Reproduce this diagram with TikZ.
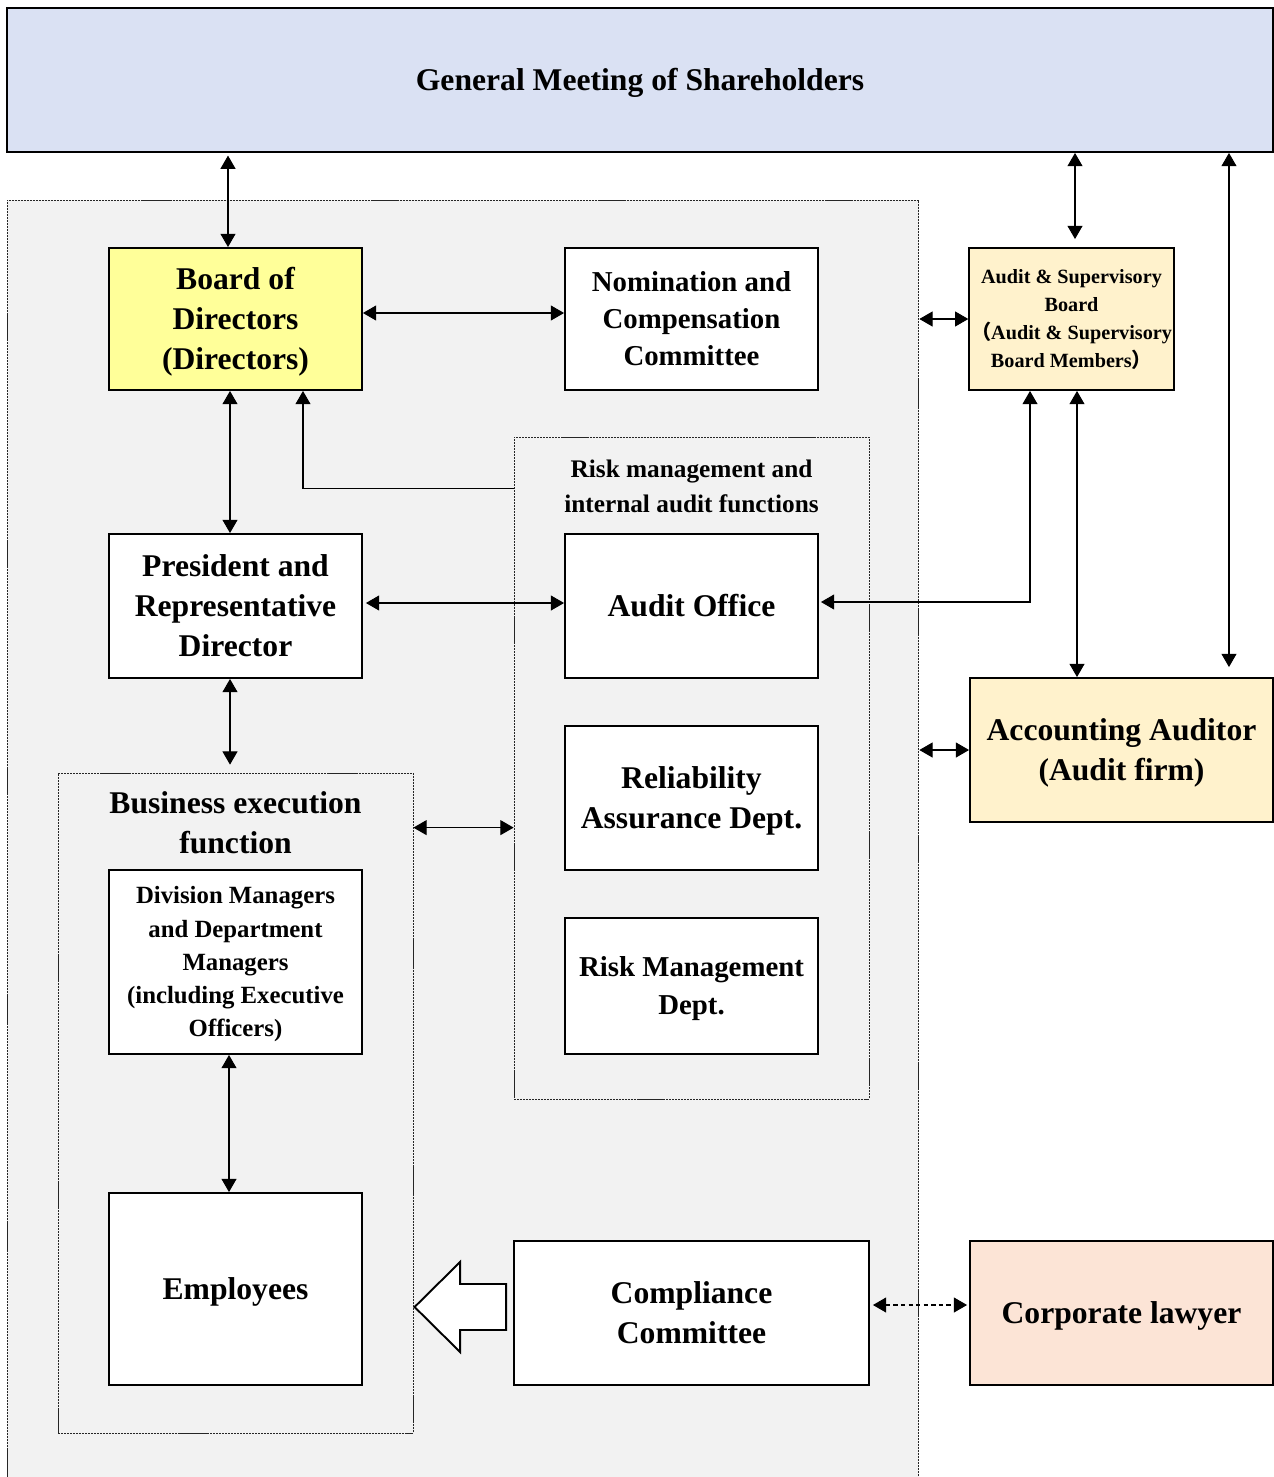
\documentclass[tikz,border=0pt]{standalone}
\usepackage{fontspec}
\setmainfont{Liberation Serif}
\newfontfamily\cjkparen{Noto Sans CJK JP}
\usetikzlibrary{arrows.meta,calc}

\definecolor{gmsblue}{RGB}{218,225,243}
\definecolor{bodyellow}{RGB}{255,255,153}
\definecolor{auditcream}{RGB}{255,242,204}
\definecolor{lawyerpeach}{RGB}{252,228,214}
\definecolor{groupgray}{RGB}{242,242,242}

% line strut, so that the lines sit as in a word processor
\newcommand\ws{\rule[-0.216em]{0pt}{1.107em}}

\begin{document}
\begin{tikzpicture}[x=0.02cm,y=-0.02cm,
        >={Triangle[length=7.5pt,width=8.5pt]},
        box/.style={draw,line width=1.1pt,fill=white,align=center,inner sep=1pt,
            minimum width=5.06cm,minimum height=2.88cm},
        group/.style={draw=black!85,fill=groupgray,line width=0.5pt,
            dash pattern=on 1.2pt off 0.5pt,inner sep=0pt},
        link/.style={<->,line width=0.6pt},
        bigtxt/.style={font=\fontsize{18}{22.7}\selectfont\bfseries},
        midtxt/.style={font=\fontsize{16.4}{21}\selectfont\bfseries},
        smalltxt/.style={font=\fontsize{14.2}{19}\selectfont\bfseries},
        tinytxt/.style={font=\fontsize{11.5}{15.9}\selectfont\bfseries}
    ]
    \useasboundingbox (0,0) rectangle (1274,1477);

    % groups
    \node[group,minimum width=18.24cm,minimum height=25.8cm] (corp) at (463,845) {};
    \node[group,minimum width=7.1cm,minimum height=13.2cm] (biz) at (235.5,1103) {};
    \node[group,minimum width=7.1cm,minimum height=13.24cm] (risk) at (691.5,768) {};
    \node[bigtxt,align=center] (biztitle) at (235.5,823) {Business execution\\function};
    \node[smalltxt,align=center,font=\fontsize{14.4}{19.8}\selectfont\bfseries] (risktitle)
        at (691.5,486.5) {Risk management and\\internal audit functions};

    % boxes
    \node[box,bigtxt,fill=gmsblue,minimum width=25.32cm] (gms) at (640,80)
        {\ws General Meeting of Shareholders\ws};
    \node[box,bigtxt,fill=bodyellow,minimum height=2.84cm] (bod) at (235.5,319)
        {\ws Board of\\Directors\\(Directors)\ws};
    \node[box,midtxt,minimum height=2.84cm] (nom) at (691.5,319)
        {\ws Nomination and\\Compensation\\Committee\ws};
    \node[box,tinytxt,fill=auditcream,minimum width=4.06cm,minimum height=2.84cm] (asb)
        at (1071.5,319)
        {\ws Audit \& Supervisory\\Board\\{\cjkparen （}Audit \& Supervisory\\Board Members{\cjkparen ）}\ws};
    \node[box,bigtxt] (pres) at (235.5,606) {\ws President and\\Representative\\Director\ws};
    \node[box,bigtxt] (aoff) at (691.5,606) {\ws Audit Office\ws};
    \node[box,bigtxt] (rel) at (691.5,798) {\ws Reliability\\Assurance Dept.\ws};
    \node[box,midtxt,font=\fontsize{16.4}{21.8}\selectfont\bfseries,minimum height=2.72cm]
        (rmd) at (691.5,986) {\ws Risk Management\\Dept.\ws};
    \node[box,smalltxt,font=\fontsize{14.1}{18.9}\selectfont\bfseries,minimum height=3.68cm]
        (div) at (235.5,962)
        {\ws Division Managers\\and Department\\Managers\\(including Executive\\Officers)\ws};
    \node[box,bigtxt,minimum height=3.84cm] (emp) at (235.5,1289) {\ws Employees\ws};
    \node[box,bigtxt,minimum width=7.1cm] (comp) at (691.5,1313) {\ws Compliance\\Committee\ws};
    \node[box,bigtxt,fill=auditcream,minimum width=6.06cm] (acc) at (1121.5,750)
        {\ws Accounting Auditor\\(Audit firm)\ws};
    \node[box,bigtxt,fill=lawyerpeach,minimum width=6.06cm] (law) at (1121.5,1313)
        {\ws Corporate lawyer\ws};

    % links to the shareholders
    \coordinate (b1) at ([xshift=-0.15cm]bod.north);
    \coordinate (a1) at ([xshift=0.07cm]asb.north);
    \coordinate (a2) at ([xshift=2.15cm]acc.north);
    \draw[link,shorten <=1.5pt] (b1 |- gms.south) -- (b1);
    \draw[link,shorten >=0.16cm] (a1 |- gms.south) -- (a1);
    \draw[link,shorten >=0.2cm] (a2 |- gms.south) -- (a2);

    % board and management
    \draw[link] ([yshift=0.12cm]bod.east) -- ([yshift=0.12cm]nom.west);
    \draw[link] ([xshift=-0.11cm]bod.south) -- ([xshift=-0.11cm]pres.north);
    \draw[->,line width=0.6pt] ([yshift=-1.04cm]risk.north west) -| ([xshift=1.35cm]bod.south);
    \draw[link,shorten <=0.06cm] ([yshift=0.06cm]pres.east) -- ([yshift=0.06cm]aoff.west);
    \coordinate (p1) at ([xshift=-0.11cm]pres.south);
    \draw[link,shorten >=0.16cm] (p1) -- (p1 |- biz.north);
    \coordinate (r1) at ([yshift=-1.1cm]biz.north east);
    \draw[link] (r1) -- (r1 -| risk.west);
    \draw[link] ([xshift=-0.13cm]div.south) -- ([xshift=-0.13cm]emp.north);

    % audit side
    \draw[link,shorten >=0.04cm] ([xshift=-0.83cm]asb.south) |- ([yshift=0.08cm]aoff.east);
    \coordinate (a3) at ([xshift=0.11cm]asb.south);
    \draw[link] (a3) -- (a3 |- acc.north);
    \draw[link] (asb.west -| corp.east) -- (asb.west);
    \draw[link] (acc.west -| corp.east) -- (acc.west);

    % compliance
    \coordinate (fa) at ([shift={(-7,-6)}]comp.west);
    \draw[line width=1.1pt,fill=white] (fa) ++(0,-23) -- ++(-46,0) -- ++(0,-22)
        -- ++(-45.5,45) -- ++(45.5,45) -- ++(0,-22) -- ++(46,0) -- cycle;
    \draw[link,dash pattern=on 2.5pt off 1.8pt,shorten <=0.06cm,shorten >=0.04cm]
        ([yshift=0.16cm]comp.east) -- ([yshift=0.16cm]law.west);
\end{tikzpicture}
\end{document}
